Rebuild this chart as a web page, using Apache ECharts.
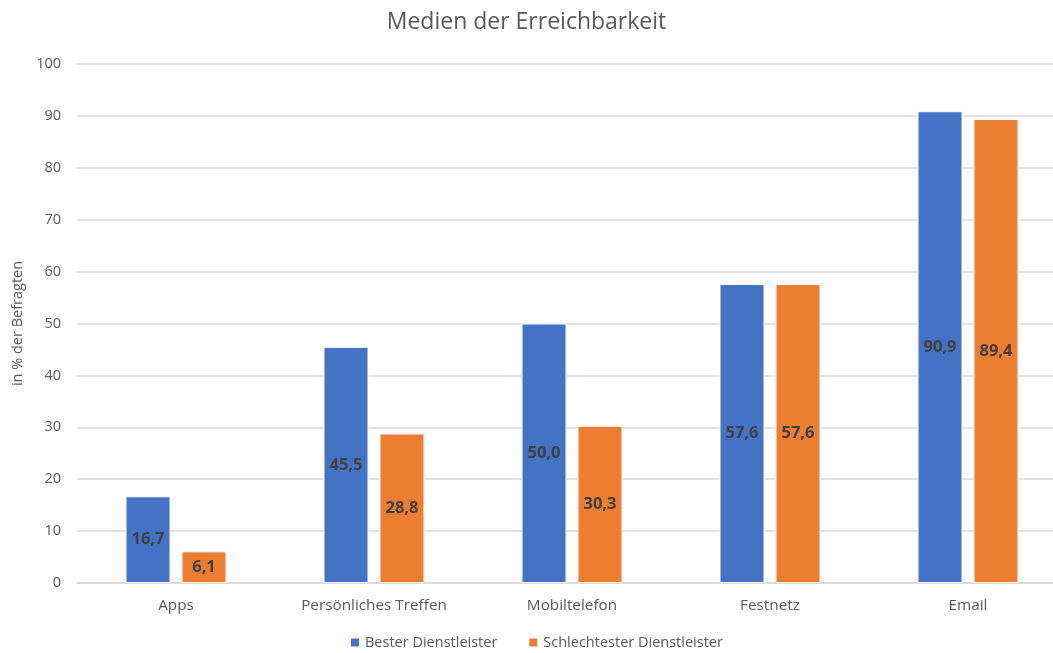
<!DOCTYPE html>
<html><head><meta charset="utf-8">
<script src="https://cdn.jsdelivr.net/npm/echarts@6/dist/echarts.min.js"></script>
<style>html,body{margin:0;padding:0;background:#fff}#c{width:1053px;height:653px}</style>
</head><body><div id="c"></div>
<script>
const categories = ["Apps", "Persönliches Treffen", "Mobiltelefon", "Festnetz", "Email"];
const seriesNames = ["Bester Dienstleister", "Schlechtester Dienstleister"];
const bester = [16.7, 45.5, 50.0, 57.6, 90.9];
const schlechtester = [6.1, 28.8, 30.3, 57.6, 89.4];
const yTicks = [0, 10, 20, 30, 40, 50, 60, 70, 80, 90, 100];

const font = "'Open Sans', 'Noto Sans', sans-serif";
const chart = echarts.init(document.getElementById('c'));
const lbl = {
  show: true, position: 'inside', color: '#404040', fontWeight: 'bold',
  fontSize: 16.5, fontFamily: font,
  formatter: p => p.value.toFixed(1).replace('.', ',')
};
chart.setOption({
  animation: false,
  title: {
    text: 'Medien der Erreichbarkeit', left: 'center', top: 6,
    textStyle: { fontFamily: font, fontSize: 23, fontWeight: 'normal', color: '#595959' }
  },
  legend: {
    bottom: -2, left: 344, itemWidth: 10, itemHeight: 10, itemGap: 30, icon: 'rect',
    textStyle: { fontFamily: font, fontSize: 14.5, color: '#595959' },
    data: seriesNames
  },
  grid: { left: 77, top: 64, bottom: 70, width: 990, outerBoundsMode: 'none', containLabel: false },
  xAxis: {
    type: 'category', data: categories,
    axisLine: { lineStyle: { color: '#d9d9d9', width: 1.5 } },
    axisTick: { show: false },
    axisLabel: { fontFamily: font, fontSize: 15.3, color: '#595959', margin: 15 }
  },
  yAxis: {
    type: 'value', min: yTicks[0], max: yTicks[yTicks.length - 1], interval: 10,
    name: 'in % der Befragten', nameLocation: 'middle', nameGap: 51, nameRotate: 90,
    nameTextStyle: { fontFamily: font, fontSize: 14.5, color: '#595959' },
    axisLine: { show: false }, axisTick: { show: false },
    axisLabel: { fontFamily: font, fontSize: 14.5, color: '#595959', margin: 16 },
    splitLine: { lineStyle: { color: '#d9d9d9', width: 1.5 } }
  },
  series: [
    { name: seriesNames[0], type: 'bar', data: bester, barWidth: 45, barGap: '24.4%',
      itemStyle: { color: '#4472C4', borderColor: '#ffffff', borderWidth: 1 }, label: lbl },
    { name: seriesNames[1], type: 'bar', data: schlechtester, barWidth: 45,
      itemStyle: { color: '#ED7D31', borderColor: '#ffffff', borderWidth: 1 }, label: lbl }
  ]
});
</script></body></html>
